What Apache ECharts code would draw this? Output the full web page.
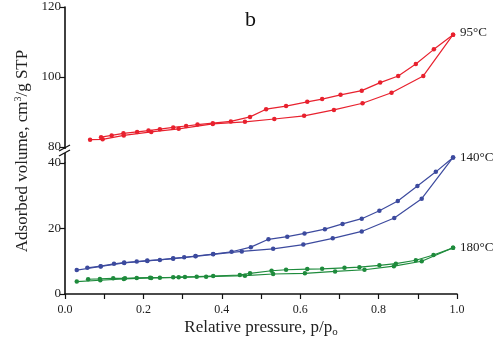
<!DOCTYPE html>
<html>
<head>
<meta charset="utf-8">
<script src="https://cdn.jsdelivr.net/npm/echarts@6/dist/echarts.min.js"></script>
<style>
html,body{margin:0;padding:0;background:#fff}
#chart{width:498px;height:346px}
</style>
</head>
<body>
<div id="chart"></div>
<script>
// 95°C  (upper part of the broken axis)
var pAds95=[0.064,0.096,0.15,0.22,0.29,0.377,0.459,0.534,0.61,0.686,0.759,0.833,0.914,0.99]
var vAds95=[82.1,82.2,83.3,84.3,85.2,86.6,87.2,88.0,88.9,90.6,92.5,95.5,100.3,112.1]
var pDes95=[0.99,0.941,0.895,0.85,0.804,0.757,0.703,0.656,0.618,0.564,0.513,0.472,0.423,0.377,0.338,0.309,0.276,0.242,0.213,0.184,0.149,0.119,0.092]
var vDes95=[112.1,107.9,103.7,100.3,98.4,96.1,94.9,93.7,92.9,91.7,90.8,88.6,87.3,86.8,86.4,86.0,85.6,85.1,84.7,84.3,83.9,83.3,82.8]
// 140°C
var pAds140=[0.03,0.091,0.151,0.21,0.276,0.333,0.378,0.451,0.531,0.608,0.683,0.757,0.84,0.91,0.99]
var vAds140=[7.3,8.4,9.5,10.1,10.8,11.5,12.1,13.0,13.8,15.1,17.0,19.1,23.2,29.1,41.7]
var pDes140=[0.99,0.946,0.899,0.849,0.802,0.757,0.708,0.663,0.611,0.567,0.519,0.474,0.425,0.378,0.333,0.304,0.276,0.242,0.21,0.183,0.151,0.125,0.091,0.057]
var vDes140=[41.7,37.3,33.0,28.4,25.4,23.0,21.4,19.8,18.5,17.5,16.7,14.3,12.9,12.2,11.6,11.2,10.9,10.4,10.2,9.9,9.6,9.2,8.5,8.0]
// 180°C
var pAds180=[0.03,0.09,0.15,0.22,0.29,0.36,0.459,0.531,0.612,0.689,0.764,0.839,0.91,0.99]
var vAds180=[3.8,4.2,4.6,4.9,5.1,5.3,5.6,6.1,6.3,6.9,7.4,8.5,10.0,14.1]
var pDes180=[0.99,0.94,0.895,0.844,0.802,0.751,0.713,0.656,0.618,0.564,0.527,0.472,0.446,0.378,0.336,0.306,0.276,0.242,0.217,0.183,0.153,0.123,0.089,0.059]
var vDes180=[14.1,11.9,10.3,9.25,8.75,8.2,8.0,7.7,7.6,7.4,7.1,6.3,5.8,5.5,5.3,5.2,5.1,5.0,5.0,4.9,4.8,4.8,4.6,4.5]

var names=["95°C","140°C","180°C"]
var colors=["#e8212e","#3c4a9e","#1e8b3c"]

function zip(p,v){
	var out=[]
	for(var i=0;i<p.length;i++){out.push([p[i],v[i]])}
	return out
}

var serif="Liberation Serif"
var G={left:65,right:41,upTop:7,upH:140,lowTop:163,lowBottom:52}

function mkSeries(idx,ax,p,v,withLabel){
	var s={
		type:"line",
		xAxisIndex:ax,yAxisIndex:ax,
		data:zip(p,v),
		symbol:"circle",symbolSize:4.5,
		clip:false,
		lineStyle:{color:colors[idx],width:1.2},
		itemStyle:{color:colors[idx]}
	}
	if(withLabel){
		s.endLabel={show:true,formatter:names[idx],color:"#222",fontFamily:serif,fontSize:13,distance:7,offset:[0,idx==0?-2:0]}
	}
	return s
}

var mychart=echarts.init(document.getElementById("chart"))
var option={
	animation:false,
	grid:[
		{left:G.left,right:G.right,top:G.upTop,height:G.upH},
		{left:G.left,right:G.right,top:G.lowTop,bottom:G.lowBottom}
	],
	xAxis:[
		{gridIndex:0,type:"value",min:0,max:1,show:false},
		{gridIndex:1,type:"value",min:0,max:1,interval:0.1,
			axisLine:{lineStyle:{color:"#111",width:1.6}},
			axisTick:{length:5,lineStyle:{color:"#111",width:1.2}},
			splitLine:{show:false},
			axisLabel:{color:"#222",fontFamily:serif,fontSize:12,margin:10,
				formatter:function(v){return Math.round(v*10)%2==0?v.toFixed(1):""}},
			name:"{a|Relative pressure, p/p}{s|o}",
			nameLocation:"middle",nameGap:24,
			nameTextStyle:{rich:{
				a:{fontFamily:serif,fontSize:17,color:"#222",lineHeight:20,verticalAlign:"middle"},
				s:{fontFamily:serif,fontSize:11,color:"#222",lineHeight:11,verticalAlign:"bottom"}
			}}
		}
	],
	yAxis:[
		{gridIndex:0,type:"value",min:80,max:120,interval:20,
			axisLine:{show:true,lineStyle:{color:"#111",width:1.6}},
			axisTick:{show:true,length:5,lineStyle:{color:"#111",width:1.2}},
			splitLine:{show:false},
			axisLabel:{color:"#222",fontFamily:serif,fontSize:13,margin:4}
		},
		{gridIndex:1,type:"value",min:0,max:40,interval:20,
			axisLine:{show:true,lineStyle:{color:"#111",width:1.6}},
			axisTick:{show:true,length:5,lineStyle:{color:"#111",width:1.2}},
			splitLine:{show:false},
			axisLabel:{color:"#222",fontFamily:serif,fontSize:13,margin:4}
		}
	],
	series:[
		mkSeries(0,0,pAds95,vAds95,true),
		mkSeries(0,0,pDes95,vDes95,false),
		mkSeries(1,1,pAds140,vAds140,true),
		mkSeries(1,1,pDes140,vDes140,false),
		mkSeries(2,1,pAds180,vAds180,true),
		mkSeries(2,1,pDes180,vDes180,false)
	],
	graphic:[
		// axis break marks
		{type:"line",shape:{x1:G.left,y1:G.upTop+G.upH,x2:G.left,y2:G.lowTop},style:{stroke:"#111",lineWidth:1.6}},
		{type:"rect",shape:{x:G.left-3,y:149,width:6,height:4},style:{fill:"#fff"},z:10},
		{type:"line",shape:{x1:G.left-6,y1:151,x2:G.left+5,y2:145},style:{stroke:"#111",lineWidth:1.3},z:11},
		{type:"line",shape:{x1:G.left-6,y1:156,x2:G.left+5,y2:150},style:{stroke:"#111",lineWidth:1.3},z:11},
		{type:"text",left:245,top:9,style:{text:"b",font:"22px "+serif,fill:"#111"}},
		{type:"text",x:23,y:151,rotation:Math.PI/2,
			style:{text:"{a|Adsorbed volume, cm}{s|3}{a|/g STP}",align:"center",verticalAlign:"middle",
				rich:{
					a:{fontFamily:serif,fontSize:17,fill:"#222",color:"#222",lineHeight:20,verticalAlign:"middle"},
					s:{fontFamily:serif,fontSize:10,fill:"#222",color:"#222",lineHeight:10,verticalAlign:"top"}
				}}}
	]
}
mychart.setOption(option)
</script>
</body>
</html>
